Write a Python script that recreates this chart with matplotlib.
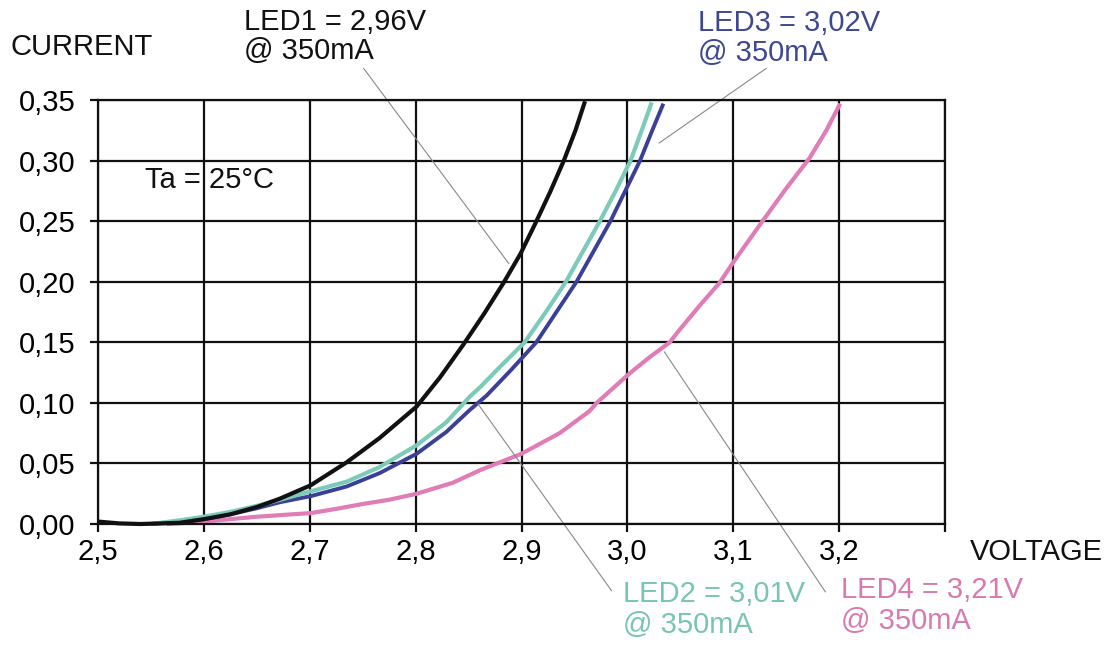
import matplotlib
matplotlib.use("Agg")
import matplotlib.pyplot as plt

plt.rcParams['font.family'] = ['Liberation Sans', 'DejaVu Sans']

# Data (voltage V, current A)
led1_v = [2.50, 2.52, 2.54, 2.56, 2.577, 2.60, 2.625, 2.65, 2.672, 2.701, 2.735, 2.766,
          2.801, 2.823, 2.845, 2.865, 2.883, 2.899, 2.913, 2.927, 2.940, 2.951, 2.960]
led1_i = [0.002, 0.0005, 0.0, 0.0005, 0.001, 0.004, 0.008, 0.014, 0.021, 0.032, 0.051, 0.071,
          0.097, 0.121, 0.148, 0.174, 0.199, 0.223, 0.248, 0.274, 0.300, 0.325, 0.349]

led2_v = [2.55, 2.577, 2.60, 2.625, 2.65, 2.672, 2.701, 2.735, 2.766, 2.801, 2.829, 2.851,
          2.861, 2.880, 2.903, 2.923, 2.942, 2.958, 2.974, 2.989, 3.003, 3.014, 3.023]
led2_i = [0.0, 0.003, 0.006, 0.010, 0.015, 0.020, 0.027, 0.035, 0.047, 0.065, 0.084, 0.105,
          0.113, 0.130, 0.150, 0.175, 0.200, 0.225, 0.250, 0.275, 0.300, 0.326, 0.348]

led3_v = [2.55, 2.577, 2.60, 2.625, 2.65, 2.672, 2.701, 2.735, 2.766, 2.801, 2.829, 2.851,
          2.867, 2.890, 2.914, 2.933, 2.952, 2.968, 2.984, 2.998, 3.012, 3.024, 3.034]
led3_i = [0.0, 0.002, 0.004, 0.008, 0.013, 0.018, 0.023, 0.031, 0.042, 0.058, 0.076, 0.094,
          0.106, 0.127, 0.150, 0.175, 0.200, 0.225, 0.250, 0.275, 0.300, 0.326, 0.347]

led4_v = [2.565, 2.577, 2.60, 2.625, 2.65, 2.675, 2.701, 2.725, 2.750, 2.775, 2.801, 2.835,
          2.861, 2.90, 2.936, 2.964, 2.971, 3.001, 3.020, 3.040, 3.049, 3.068, 3.087, 3.100,
          3.126, 3.150, 3.172, 3.188, 3.201]
led4_i = [0.0, 0.0005, 0.002, 0.004, 0.006, 0.0075, 0.009, 0.0125, 0.0165, 0.020, 0.025, 0.034,
          0.0445, 0.058, 0.075, 0.093, 0.100, 0.1235, 0.137, 0.150, 0.160, 0.180, 0.199, 0.216,
          0.248, 0.277, 0.302, 0.325, 0.347]

x_ticks = [2.5, 2.6, 2.7, 2.8, 2.9, 3.0, 3.1, 3.2, 3.3]
x_labels = ['2,5', '2,6', '2,7', '2,8', '2,9', '3,0', '3,1', '3,2', '']
y_ticks = [0.00, 0.05, 0.10, 0.15, 0.20, 0.25, 0.30, 0.35]
y_labels = ['0,00', '0,05', '0,10', '0,15', '0,20', '0,25', '0,30', '0,35']

c_black = '#111111'
c_teal = '#7ccab9'
c_blue = '#3a3f98'
c_pink = '#e07cb6'
t_teal = '#79c4b4'
t_blue = '#3f4790'
t_pink = '#d97aae'

fig = plt.figure(figsize=(11.15, 6.46), dpi=100)
ax = fig.add_axes([98/1115, 1-524/646, (945-98)/1115, (524-100)/646])
ax.set_xlim(2.5, 3.3)
ax.set_ylim(0.0, 0.35)

ax.set_xticks(x_ticks)
ax.set_xticklabels(x_labels)
ax.set_yticks(y_ticks)
ax.set_yticklabels(y_labels)
ax.tick_params(axis='both', direction='out', length=6, width=1.6, color='#111111',
               labelsize=21)
ax.tick_params(axis='y', pad=10)
ax.tick_params(axis='x', pad=4)
ax.grid(True, color='#111111', linewidth=1.6)
for s in ax.spines.values():
    s.set_linewidth(1.6)
    s.set_color('#111111')
ax.set_axisbelow(True)

kw = dict(solid_capstyle='butt', solid_joinstyle='round', clip_on=False)
ax.plot(led4_v, led4_i, color=c_pink, lw=3.0, **kw)
ax.plot(led3_v, led3_i, color=c_blue, lw=2.8, **kw)
ax.plot(led2_v, led2_i, color=c_teal, lw=3.0, **kw)
ax.plot(led1_v, led1_i, color=c_black, lw=3.0, **kw)

# leader lines
lc = '#888888'
ax.plot([2.751, 2.888], [0.376, 0.215], color=lc, lw=0.8, clip_on=False)
ax.plot([3.131, 3.030], [0.376, 0.3145], color=lc, lw=0.8, clip_on=False)
ax.plot([2.859, 2.985], [0.099, -0.055], color=lc, lw=0.8, clip_on=False)
ax.plot([3.035, 3.187], [0.142, -0.056], color=lc, lw=0.8, clip_on=False)

fs = 21
ax.text(2.544, 0.284, 'Ta = 25°C', fontsize=fs, ha='left', va='center', color='#111111')

fig.text(10/1115, 1-47/646, 'CURRENT', fontsize=fs, ha='left', va='center', color='#111111')
fig.text(970/1115, 1-552/646, 'VOLTAGE', fontsize=fs, ha='left', va='center', color='#111111')

def label(x, y1, y2, l1, l2, col):
    fig.text(x/1115, 1-y1/646, l1, fontsize=fs, ha='left', va='center', color=col)
    fig.text(x/1115, 1-y2/646, l2, fontsize=fs, ha='left', va='center', color=col)

label(244, 22, 51, 'LED1 = 2,96V', '@ 350mA', '#111111')
label(698, 23, 53, 'LED3 = 3,02V', '@ 350mA', t_blue)
label(623, 594, 625, 'LED2 = 3,01V', '@ 350mA', t_teal)
label(841, 590, 621, 'LED4 = 3,21V', '@ 350mA', t_pink)

fig.savefig('out.png', dpi=100, facecolor='white')
